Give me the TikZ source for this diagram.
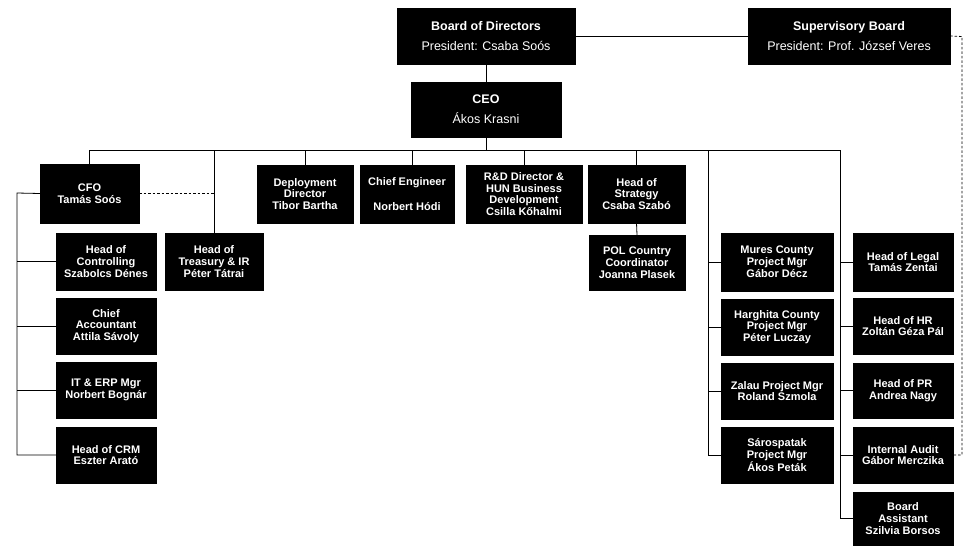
\documentclass[tikz,border=0pt]{standalone}
\usepackage{fontspec}
\setmainfont{Liberation Sans}
\begin{document}
\begin{tikzpicture}[x=1pt,y=1pt,
  box/.style={draw=black, fill=black, text=white, inner sep=0pt, outer sep=0pt,
    anchor=north west, align=center, font=\fontsize{11}{11.8}\selectfont\bfseries},
  topbox/.style={box, font=\fontsize{12.5}{20}\selectfont},
  conn/.style={draw=black, line width=0.8pt},
  dconn/.style={conn, dashed, dash pattern=on 2.5pt off 2pt}]
\fill[white] (0,0) rectangle (965,-546);
\useasboundingbox (0,0) rectangle (965,-546);
% top
\node[topbox, minimum width=178pt, minimum height=56pt] (bod) at (397,-8) {\textbf{Board of Directors}\\President: Csaba Soós};
\node[topbox, minimum width=202pt, minimum height=56pt] (sb) at (748,-8) {\textbf{Supervisory Board}\\President: Prof. József Veres};
\node[topbox, minimum width=150pt, minimum height=55pt] (ceo) at (411,-82) {\textbf{CEO}\\Ákos Krasni};
% second row
\node[box, minimum width=99pt, minimum height=59pt] (cfo) at (40,-164) {CFO\\Tamás Soós};
\node[box, minimum width=96pt, minimum height=58pt] (dep) at (257,-165) {Deployment\\Director\\Tibor Bartha};
\node[box, minimum width=94pt, minimum height=58pt] (che) at (360,-165) {Chief Engineer\\[2pt]~\\Norbert Hódi};
\node[box, minimum width=116pt, minimum height=58pt] (rnd) at (466,-165) {R\&D Director \&\\HUN Business\\Development\\Csilla Kőhalmi};
\node[box, minimum width=97pt, minimum height=58pt] (str) at (588,-165) {Head of\\Strategy\\Csaba Szabó};
% third row
\node[box, minimum width=98pt, minimum height=57pt] (treas) at (165,-233) {Head of\\Treasury \& IR\\Péter Tátrai};
\node[box, minimum width=96pt, minimum height=55pt] (pol) at (589,-235) {POL Country\\Coordinator\\Joanna Plasek};
% left column
\node[box, minimum width=100pt, minimum height=57pt] (ctrl) at (56,-233) {Head of\\Controlling\\Szabolcs Dénes};
\node[box, minimum width=100pt, minimum height=56pt] (acc) at (56,-298) {Chief\\Accountant\\Attila Sávoly};
\node[box, minimum width=100pt, minimum height=56pt] (itm) at (56,-362) {IT \& ERP Mgr\\Norbert Bognár};
\node[box, minimum width=100pt, minimum height=56pt] (crm) at (56,-427) {Head of CRM\\Eszter Arató};
% Mures column
\node[box, minimum width=112pt, minimum height=58pt] (mur) at (721,-233) {Mures County\\Project Mgr\\Gábor Décz};
\node[box, minimum width=112pt, minimum height=56pt] (har) at (721,-299) {Harghita County\\Project Mgr\\Péter Luczay};
\node[box, minimum width=112pt, minimum height=56pt] (zal) at (721,-363) {Zalau Project Mgr\\Roland Szmola};
\node[box, minimum width=112pt, minimum height=56pt] (sar) at (721,-427) {Sárospatak\\Project Mgr\\Ákos Peták};
% right column
\node[box, minimum width=100pt, minimum height=58pt] (leg) at (853,-233) {Head of Legal\\Tamás Zentai};
\node[box, minimum width=100pt, minimum height=56pt] (hr) at (853,-298) {Head of HR\\Zoltán Géza Pál};
\node[box, minimum width=100pt, minimum height=55pt] (pr) at (853,-363) {Head of PR\\Andrea Nagy};
\node[box, minimum width=100pt, minimum height=56pt] (aud) at (853,-427) {Internal Audit\\Gábor Merczika};
\node[box, minimum width=100pt, minimum height=53pt] (ast) at (853,-492) {Board\\Assistant\\Szilvia Borsos};
% helper coordinates
\coordinate (busR) at (840,-150);
\coordinate (mtop) at (708,-150);
\coordinate (lx) at (17,-193);
\coordinate (dx) at (962,-36.5);
% connectors
\draw[conn] (bod.east) -- (sb.west);
\draw[conn] (bod.south) -- (bod.south |- ceo.north);
\draw[conn] (ceo.south) -- (ceo.south |- busR);
\draw[conn] (cfo.north) |- (busR);
\draw[conn] (treas.north) -- (treas.north |- busR);
\draw[conn] (dep.north) -- (dep.north |- busR);
\draw[conn] ([xshift=5pt]che.north) -- ([xshift=5pt]che.north |- busR);
\draw[conn] (rnd.north) -- (rnd.north |- busR);
\draw[conn] (str.north) -- (str.north |- busR);
\draw[conn] (str.south) -- (pol.north);
\draw[dconn] (cfo.east) -- (cfo.east -| treas.north);
% left column
\draw[conn] (cfo.west) -- (lx) |- (crm.west);
\draw[conn] (lx |- ctrl.west) -- (ctrl.west);
\draw[conn] (lx |- acc.west) -- (acc.west);
\draw[conn] (lx |- itm.west) -- (itm.west);
% Mures column
\draw[conn] (mtop) |- (sar.west);
\draw[conn] (mtop |- mur.west) -- (mur.west);
\draw[conn] (mtop |- har.west) -- (har.west);
\draw[conn] (mtop |- zal.west) -- (zal.west);
% right column
\draw[conn] (busR) |- (ast.west);
\draw[conn] (busR |- leg.west) -- (leg.west);
\draw[conn] (busR |- hr.west) -- (hr.west);
\draw[conn] (busR |- pr.west) -- (pr.west);
\draw[conn] (busR |- aud.west) -- (aud.west);
% supervisory dashed link
\draw[dconn] (sb.east) -- (dx) |- (aud.east);
\end{tikzpicture}
\end{document}
